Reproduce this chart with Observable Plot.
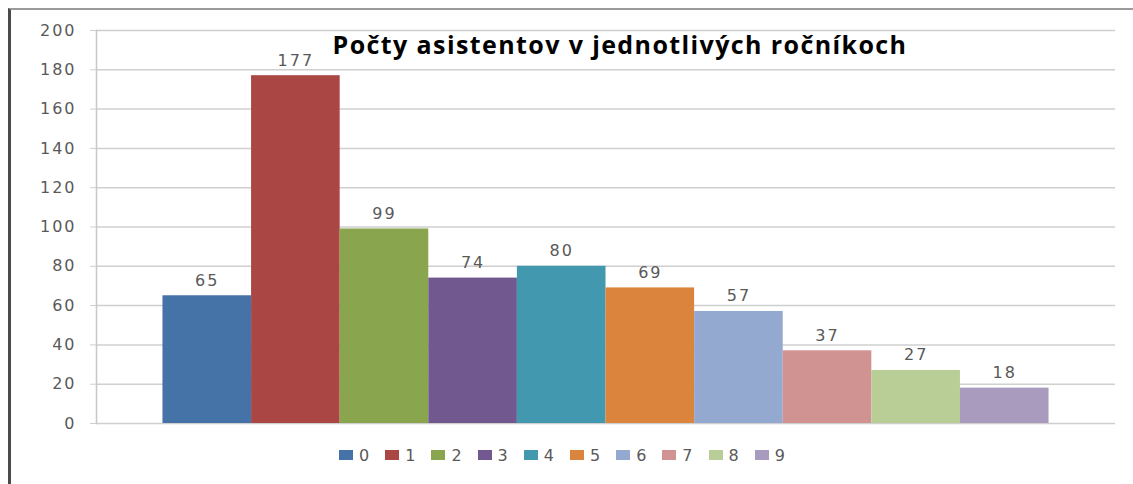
<!DOCTYPE html>
<html><head><meta charset="utf-8">
<script src="https://cdn.jsdelivr.net/npm/d3@7"></script>
<script src="https://cdn.jsdelivr.net/npm/@observablehq/plot@0.6"></script>
<style>
body{margin:0;background:#fff;overflow:hidden;}
#wrap{position:absolute;left:8px;top:8px;width:1140px;height:490px;border-left:3px solid #4a4a4a;border-top:2px solid #9a9a9a;}
#legend{display:flex;align-items:center;height:30px;padding-left:328px;font-family:"DejaVu Sans";font-size:16px;color:#595959;letter-spacing:1px;}
.item{display:flex;align-items:center;margin-right:15px;}
.sw{width:14px;height:10px;margin-right:6px;}
</style></head>
<body><div id="wrap"><div id="chart"></div><div id="legend"></div></div>
<script>
const categories = ["0","1","2","3","4","5","6","7","8","9"];
const values = [65,177,99,74,80,69,57,37,27,18];
const colors = ["#4572A7","#AA4643","#89A54E","#71588F","#4198AF","#DB843D","#93A9CF","#D19392","#B9CD96","#A99BBD"];
const yTicks = [0,20,40,60,80,100,120,140,160,180,200];
const title = "Počty asistentov v jednotlivých ročníkoch";

const data = categories.map((c,i)=>({cat:c, value:values[i]}));

const chart = Plot.plot({
  width: 1122, height: 430,
  marginLeft: 85, marginRight: 18, marginTop: 20, marginBottom: 17,
  style: {fontFamily: "DejaVu Sans", fontSize: "16px", letterSpacing: "2px", background: "#fff"},
  x: {domain: categories, paddingInner: 0, paddingOuter: 0.75, round: false, axis: null},
  y: {domain: [0,200], ticks: yTicks},
  color: {domain: categories, range: colors},
  marks: [
    Plot.gridY(yTicks, {stroke: "#cfcfcf", strokeOpacity: 1, strokeWidth: 1.5}),
    Plot.axisY(yTicks, {tickSize: 6, tickPadding: 14, stroke: "#cfcfcf", fill: "#595959", fontSize: 16, label: null}),
    Plot.frame({anchor: "left", stroke: "#c8c8c8", strokeWidth: 1.5}),
    Plot.barY(data, {x: "cat", y: "value", fill: "cat"}),
    Plot.text(data, {x: "cat", y: "value", text: d => String(d.value), lineAnchor: "bottom", dy: -10, fill: "#595959", fontSize: 16}),
    Plot.text([title], {frameAnchor: "top", lineAnchor: "middle", dx: 14, dy: 15, fontSize: 25, fontWeight: "bold", fill: "#000", fontFamily: "Open Sans", className: "ttl"})
  ]
});
document.getElementById("chart").appendChild(chart);
d3.select(chart).selectAll(".ttl text").style("letter-spacing", "1.4px");

const legend = d3.select("#legend");
categories.forEach((c,i)=>{
  const it = legend.append("div").attr("class","item");
  it.append("div").attr("class","sw").style("background", colors[i]);
  it.append("span").text(c);
});
</script>
</body></html>
